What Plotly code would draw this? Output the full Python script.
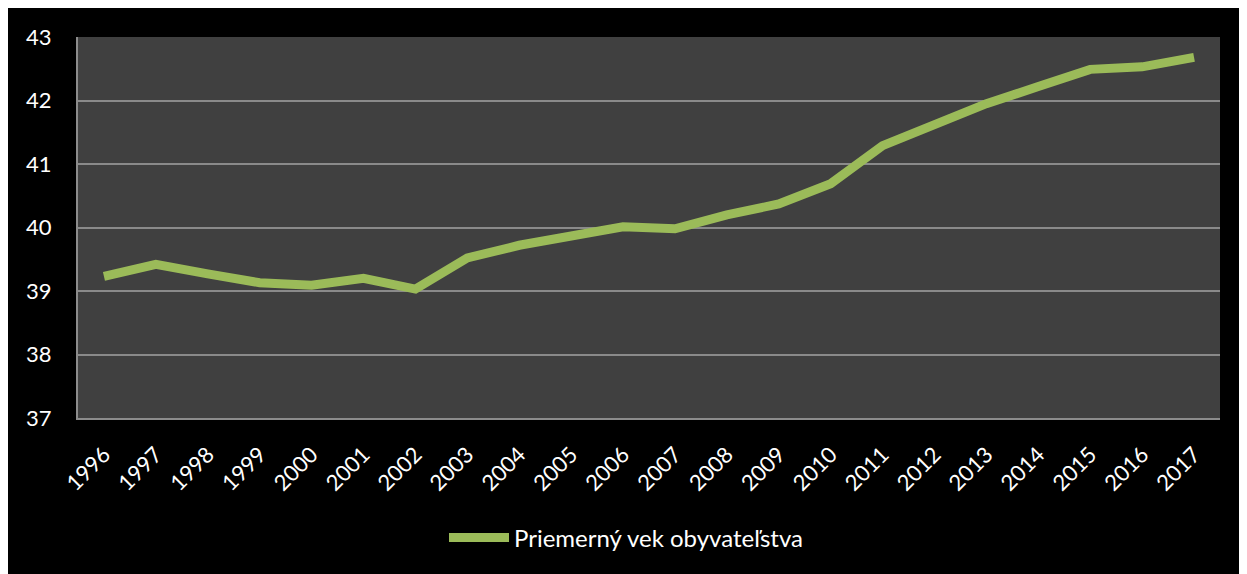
import plotly.graph_objects as go

years = [str(y) for y in range(1996, 2018)]
avg_age = [39.23, 39.42, 39.27, 39.13, 39.09, 39.20, 39.03, 39.52, 39.72, 39.88,
           40.01, 39.98, 40.20, 40.37, 40.69, 41.29, 41.62, 41.95, 42.22, 42.49,
           42.53, 42.68]
series_name = "Priemerný vek obyvateľstva"
y_ticks = [37, 38, 39, 40, 41, 42, 43]

# page is shifted by the default 8px body margin
W, H = 1247, 574
L, T = 70, 29
R = W - 1212
B = H - 410
pw, ph = W - L - R, H - T - B


def px_x(p):
    return (p - L) / pw


def px_y(p):
    return (H - B - p) / ph


fig = go.Figure()
fig.add_trace(go.Scatter(
    x=years, y=avg_age, mode="lines", name=series_name,
    line=dict(color="#9BBB59", width=9),
))

fig.update_layout(
    width=W, height=H,
    margin=dict(l=L, r=R, t=T, b=B, pad=0),
    paper_bgcolor="#000000",
    plot_bgcolor="#404040",
    font=dict(family="Lato, 'Open Sans', sans-serif", color="#FFFFFF", size=22),
    showlegend=True,
    legend=dict(
        orientation="h", x=px_x(436), xanchor="left", y=px_y(530), yanchor="middle",
        font=dict(size=24, color="#FFFFFF"), bgcolor="rgba(0,0,0,0)",
        itemwidth=60,
    ),
    xaxis=dict(
        type="category", range=[-0.5, len(years) - 0.5],
        tickangle=-45, showgrid=False, showline=True, linecolor="#8c8c8c",
        linewidth=2, ticks="outside", ticklen=13, tickcolor="rgba(0,0,0,0)",
        tickfont=dict(size=22, color="#FFFFFF"), zeroline=False,
    ),
    yaxis=dict(
        range=[37, 43], tickvals=y_ticks, showgrid=True, gridcolor="#8a8a8a",
        gridwidth=1.5, showline=True, linecolor="#8c8c8c", linewidth=2,
        ticks="outside", ticklen=20, tickcolor="rgba(0,0,0,0)",
        tickfont=dict(size=22, color="#FFFFFF"), zeroline=False,
    ),
)

fig.write_html("out.html")
